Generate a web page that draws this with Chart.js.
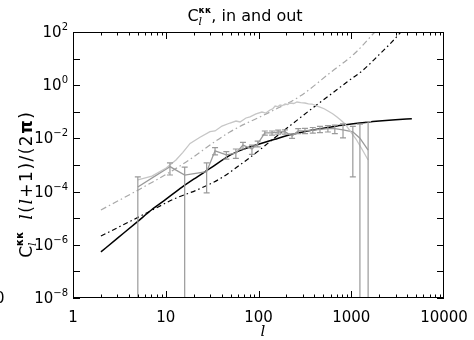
<!DOCTYPE html>
<html>
<head>
<meta charset="utf-8">
<script src="https://cdn.jsdelivr.net/npm/chart.js@4"></script>
<style>
  html, body { margin: 0; padding: 0; background: #fff; }
</style>
</head>
<body>
<canvas id="chart" width="474" height="340"></canvas>
<script>
// theory C_l (solid black)
const theoryL   = [2, 3, 5, 7, 10, 15, 20, 30, 50, 70, 100, 150, 200, 300, 500, 700, 1000, 1500, 2000, 3000, 4500];
const theoryVal = [5.4e-7, 1.74e-6, 7.6e-6, 2.04e-5, 5.1e-5, 1.48e-4, 2.95e-4, 7.4e-4, 2.4e-3, 4.0e-3, 6.0e-3,
                   9.3e-3, 1.26e-2, 1.74e-2, 2.4e-2, 2.95e-2, 3.47e-2, 4.07e-2, 4.47e-2, 5.0e-2, 5.5e-2];

// noise curve (black dash-dot)
const noiseL   = [2, 4, 7, 12, 23, 40, 63, 100, 133, 200, 280, 400, 590, 900, 1340, 2000, 2700, 3350, 4000];
const noiseVal = [2.14e-6, 7.2e-6, 1.95e-5, 5.1e-5, 1.26e-4, 3.3e-4, 1.0e-3, 3.4e-3, 7.6e-3, 2.34e-2,
                  5.9e-2, 0.155, 0.43, 1.32, 3.7, 14.1, 40, 91, 200];

// signal + noise (grey dash-dot)
const totalL   = [2, 5.3, 14.2, 49, 133, 281, 590, 1100, 1800, 2300];
const totalVal = [2.04e-5, 1.26e-4, 9.1e-4, 1.74e-2, 9.8e-2, 0.39, 2.9, 16.2, 100, 240];

// measured, fine bins (light grey)
const outL   = [5.0, 7.1, 10.1, 12.9, 15.3, 18.3, 23.4, 30, 34, 40.4, 49.3, 57.2, 63.2, 73.3, 80.9, 94, 109, 120,
                133, 142, 151, 161, 171, 182, 193, 206, 219, 240, 260, 285, 317, 345, 377, 415, 460, 510, 561,
                630, 702, 780, 857, 970, 1125, 1340, 1520];
const outVal = [2.73e-4, 3.85e-4, 7.7e-4, 1.54e-3, 3.0e-3, 6.5e-3, 1.1e-2, 1.8e-2, 1.9e-2, 2.92e-2, 3.79e-2,
                4.5e-2, 4.14e-2, 5.85e-2, 6.4e-2, 8.3e-2, 9.8e-2, 9.0e-2, 0.117, 0.128, 0.165, 0.155, 0.18,
                0.172, 0.196, 0.188, 0.214, 0.205, 0.233, 0.222, 0.214, 0.2, 0.196, 0.17, 0.151, 0.13, 0.107,
                0.085, 0.064, 0.047, 0.0348, 0.019, 9.5e-3, 3.36e-3, 1.54e-3];

// measured, binned with error bars (mid grey); 1e-10 = lower end below the axis
const binL   = [5, 11.1, 16, 27.6, 34, 45, 57, 68, 85, 98, 117, 140, 163, 193, 230, 268, 317, 385, 460, 560,
                665, 815, 1040, 1240, 1520];
const binVal = [1.48e-4, 8.7e-4, 4.2e-4, 5.6e-4, 3.4e-3, 2.4e-3, 2.8e-3, 5.6e-3, 4.0e-3, 6.3e-3, 1.62e-2,
                1.62e-2, 1.74e-2, 1.78e-2, 1.23e-2, 1.9e-2, 1.95e-2, 2.04e-2, 2.19e-2, 2.34e-2, 2.34e-2,
                2.1e-2, 1.78e-2, 1.02e-2, 3.6e-3];
const binHi  = [3.55e-4, 1.2e-3, 8.3e-4, 1.2e-3, 4.5e-3, 3.2e-3, 4.0e-3, 7.1e-3, 5.6e-3, 7.9e-3, 1.9e-2,
                1.9e-2, 2.04e-2, 2.1e-2, 1.48e-2, 2.34e-2, 2.4e-2, 2.57e-2, 2.82e-2, 3.0e-2, 3.16e-2,
                3.55e-2, 2.82e-2, 3.47e-2, 4.27e-2];
const binLo  = [1e-10, 4.2e-4, 1e-10, 8.9e-5, 2.4e-3, 1.66e-3, 1.78e-3, 4.0e-3, 2.5e-3, 4.8e-3, 1.32e-2,
                1.32e-2, 1.45e-2, 1.45e-2, 1.0e-2, 1.51e-2, 1.51e-2, 1.58e-2, 1.66e-2, 1.74e-2, 1.51e-2,
                1.05e-2, 3.6e-4, 1e-10, 1e-10];

const xTicks = [1, 10, 100, 1000, 10000];
const xTickLabels = ['1', '10', '100', '1000', '10000'];
const yTicks = [1e-8, 1e-6, 1e-4, 1e-2, 1, 1e2];
const yTickExp = ['\u22128', '\u22126', '\u22124', '\u22122', '0', '2'];

function pts(xs, ys) {
  return xs.map((v, i) => ({x: v, y: ys[i]}));
}

const SANS = '"DejaVu Sans", sans-serif';
const SERIF = '"DejaVu Serif", serif';

// draw a run of text pieces (sub/superscripts) starting at x
function rich(ctx, parts, x, y, align) {
  let w = 0, cx;
  parts.forEach(p => { ctx.font = p.f; if (p.adv !== false) w += ctx.measureText(p.t).width + (p.gap || 0); });
  cx = align === 'center' ? x - w / 2 : (align === 'right' ? x - w : x);
  parts.forEach(p => {
    ctx.font = p.f;
    ctx.fillText(p.t, cx, y + (p.dy || 0));
    if (p.adv !== false) cx += ctx.measureText(p.t).width + (p.gap || 0);
  });
}

const idlAxes = {
  id: 'idlAxes',
  afterDatasetsDraw(chart) {
    const {ctx, chartArea: a, scales: {x, y}} = chart;
    ctx.save();
    ctx.beginPath();
    ctx.rect(a.left, a.top, a.right - a.left, a.bottom - a.top);
    ctx.clip();
    chart.data.datasets.forEach(ds => {
      if (!ds.errHi) return;
      ctx.strokeStyle = ds.borderColor;
      ctx.lineWidth = 1.2;
      ds.data.forEach((p, i) => {
        const px = x.getPixelForValue(p.x);
        const top = y.getPixelForValue(ds.errHi[i]);
        const bot = y.getPixelForValue(ds.errLo[i]);
        ctx.beginPath();
        ctx.moveTo(px, top); ctx.lineTo(px, bot);
        ctx.moveTo(px - 3, top); ctx.lineTo(px + 3, top);
        ctx.moveTo(px - 3, bot); ctx.lineTo(px + 3, bot);
        ctx.stroke();
      });
    });
    ctx.restore();
  },
  afterDraw(chart) {
    const {ctx, chartArea: a, scales: {x, y}} = chart;
    ctx.save();
    ctx.strokeStyle = '#000';
    ctx.fillStyle = '#000';
    ctx.lineWidth = 1;
    ctx.strokeRect(a.left + 0.5, a.top + 0.5, a.right - a.left - 1, a.bottom - a.top - 1);

    // x ticks, major + minor, top and bottom
    ctx.beginPath();
    for (let d = 0; d < 4; d++) {
      for (let m = 1; m < 10; m++) {
        const px = Math.round(x.getPixelForValue(m * Math.pow(10, d))) + 0.5;
        const len = m === 1 ? 7 : 3.5;
        ctx.moveTo(px, a.bottom); ctx.lineTo(px, a.bottom - len);
        ctx.moveTo(px, a.top); ctx.lineTo(px, a.top + len);
      }
    }
    // y ticks every decade
    for (let e = -8; e <= 2; e++) {
      const py = Math.round(y.getPixelForValue(Math.pow(10, e))) + 0.5;
      ctx.moveTo(a.left, py); ctx.lineTo(a.left + 7, py);
      ctx.moveTo(a.right, py); ctx.lineTo(a.right - 7, py);
    }
    ctx.stroke();

    ctx.textAlign = 'left';
    ctx.textBaseline = 'alphabetic';
    const F = '15px ' + SANS, S = '10px ' + SANS;

    xTicks.forEach((v, i) => {
      rich(ctx, [{t: xTickLabels[i], f: F}], x.getPixelForValue(v), 322, 'center');
    });
    yTicks.forEach((v, i) => {
      rich(ctx, [{t: '10', f: F}, {t: yTickExp[i], f: S, dy: -7}], 68, y.getPixelForValue(v) + 5, 'right');
    });

    // stray label from neighbouring panel
    rich(ctx, [{t: '0', f: F}], -5, 303, 'left');

    // title
    rich(ctx, [
      {t: 'C', f: '16px ' + SANS},
      {t: 'l', f: 'italic 11px ' + SERIF, dy: 4, adv: false},
      {t: '\u03ba\u03ba', f: 'bold 9px ' + SANS, dy: -8},
      {t: ', in and out', f: '16px ' + SANS}
    ], 245, 21, 'center');

    // x title
    rich(ctx, [{t: 'l', f: 'italic 15px ' + SERIF}], 263, 336, 'center');

    // y title
    ctx.translate(32, 185);
    ctx.rotate(-Math.PI / 2);
    const YF = '17px ' + SANS, YI = 'italic 17px ' + SERIF;
    rich(ctx, [
      {t: 'C', f: YF},
      {t: 'l', f: 'italic 11px ' + SERIF, dy: 4, adv: false},
      {t: '\u03ba\u03ba', f: 'bold 10px ' + SANS, dy: -9, gap: 12},
      {t: 'l', f: YI, gap: 1.5},
      {t: '(', f: YF, gap: 1.5},
      {t: 'l', f: YI, gap: 1.5},
      {t: '+', f: YF, gap: 1.5},
      {t: '1', f: YF, gap: 1.5},
      {t: ')', f: YF, gap: 1.5},
      {t: '/', f: YF, gap: 1.5},
      {t: '(', f: YF, gap: 1.5},
      {t: '2', f: YF, gap: 1.5},
      {t: '\u03c0', f: 'bold ' + YF, gap: 1.5},
      {t: ')', f: YF}
    ], 0, 0, 'center');
    ctx.restore();
  }
};

const lineBase = {pointRadius: 0, fill: false, tension: 0};

new Chart(document.getElementById('chart'), {
  type: 'line',
  data: {
    datasets: [
      Object.assign({label: 'out', data: pts(outL, outVal), borderColor: '#c6c6c6', borderWidth: 1.3}, lineBase),
      Object.assign({label: 'binned', data: pts(binL, binVal), borderColor: '#9a9a9a', borderWidth: 1.3,
                     errHi: binHi, errLo: binLo}, lineBase),
      Object.assign({label: 'signal+noise', data: pts(totalL, totalVal), borderColor: '#a8a8a8', borderWidth: 1.2,
                     borderDash: [6, 3, 1.5, 3], cubicInterpolationMode: 'monotone'}, lineBase),
      Object.assign({label: 'noise', data: pts(noiseL, noiseVal), borderColor: '#000', borderWidth: 1.2,
                     borderDash: [5, 3, 1.5, 3], cubicInterpolationMode: 'monotone'}, lineBase),
      Object.assign({label: 'theory', data: pts(theoryL, theoryVal), borderColor: '#000', borderWidth: 1.5,
                     cubicInterpolationMode: 'monotone'}, lineBase)
    ]
  },
  options: {
    responsive: false,
    animation: false,
    devicePixelRatio: 1,
    layout: {padding: {left: 73, right: 30, top: 32, bottom: 42}},
    plugins: {legend: {display: false}, tooltip: {enabled: false}},
    scales: {
      x: {type: 'logarithmic', min: 1, max: 10000, display: false},
      y: {type: 'logarithmic', min: 1e-8, max: 100, display: false}
    }
  },
  plugins: [idlAxes]
});
</script>
</body>
</html>
